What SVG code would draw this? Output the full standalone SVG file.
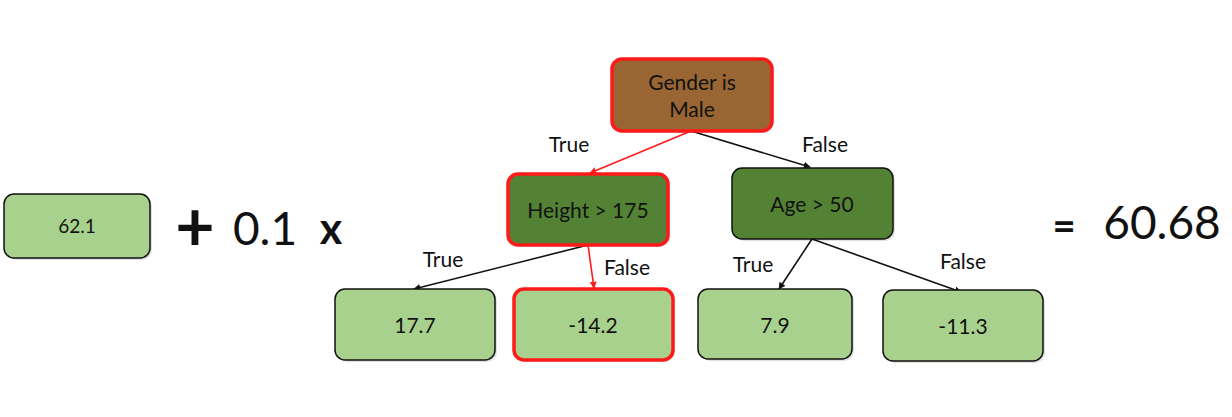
<svg xmlns="http://www.w3.org/2000/svg" width="1232" height="417" viewBox="0 0 1232 417">
<style>
text{font-family:Lato,"Noto Sans","Liberation Sans",sans-serif;fill:#111;text-anchor:middle;dominant-baseline:central}
.leaf{fill:#a9d18e;stroke:#111;stroke-width:1.5}
.dec{fill:#548235;stroke:#111;stroke-width:1.5}
.hl{stroke:#ff1a1a;stroke-width:3.5}
.t{font-size:21px}
.lbl{font-size:21px}
.e{fill:none;stroke:#111;stroke-width:1.6}
.er{fill:none;stroke:#ff1a1a;stroke-width:1.6}
.sh{fill:#000;opacity:0.12}
</style>
<defs>
<marker id="ab" viewBox="0 0 10 10" refX="9" refY="5" markerWidth="7" markerHeight="7" markerUnits="userSpaceOnUse" orient="auto"><path d="M0,0 L10,5 L0,10 z" fill="#111"/></marker>
<marker id="ar" viewBox="0 0 10 10" refX="9" refY="5" markerWidth="7" markerHeight="7" markerUnits="userSpaceOnUse" orient="auto"><path d="M0,0 L10,5 L0,10 z" fill="#ff1a1a"/></marker>
</defs>
<rect width="1232" height="417" fill="#fff"/>
<g id="base">
<rect class="sh" x="6" y="196" width="146" height="64" rx="10"/>
<rect class="leaf" x="4" y="194" width="146" height="64" rx="10"/>
<text x="77" y="225" font-size="19">62.1</text>
</g>
<g id="formula">
<text x="195" y="224" font-size="68" font-weight="bold">+</text>
<text x="265" y="227" font-size="46">0.1</text>
<text x="331" y="227" font-size="43" font-weight="bold">x</text>
<text x="1064" y="225" font-size="40" font-weight="bold">=</text>
<text x="1162" y="221" font-size="46">60.68</text>
</g>
<g id="connectors">
<line class="er" x1="691" y1="131" x2="590" y2="173" marker-end="url(#ar)"/>
<line class="e" x1="691" y1="131" x2="810" y2="167" marker-end="url(#ab)"/>
<line class="e" x1="588" y1="245" x2="414" y2="289" marker-end="url(#ab)"/>
<line class="er" x1="588" y1="245" x2="594" y2="288" marker-end="url(#ar)"/>
<line class="e" x1="812" y1="239" x2="779" y2="289" marker-end="url(#ab)"/>
<line class="e" x1="812" y1="239" x2="961" y2="292" marker-end="url(#ab)"/>
<text class="lbl" x="569" y="143">True</text>
<text class="lbl" x="825" y="143">False</text>
<text class="lbl" x="443" y="258">True</text>
<text class="lbl" x="627" y="266">False</text>
<text class="lbl" x="753" y="263">True</text>
<text class="lbl" x="963" y="260">False</text>
</g>
<g id="root">
<rect class="sh" x="614" y="61" width="160" height="72" rx="10"/>
<rect class="hl" x="612" y="59" width="160" height="72" rx="10" fill="#996633"/>
<text class="t" x="692" y="81">Gender is</text>
<text class="t" x="692" y="108">Male</text>
</g>
<g id="height">
<rect class="sh" x="510" y="176" width="160" height="71" rx="10"/>
<rect class="dec hl" x="508" y="174" width="160" height="71" rx="10"/>
<text class="t" x="588" y="209">Height &gt; 175</text>
</g>
<g id="age">
<rect class="sh" x="734" y="170" width="161" height="71" rx="10"/>
<rect class="dec" x="732" y="168" width="161" height="71" rx="10"/>
<text class="t" x="812" y="203">Age &gt; 50</text>
</g>
<g id="leaf177">
<rect class="sh" x="337" y="291" width="160" height="71" rx="10"/>
<rect class="leaf" x="335" y="289" width="160" height="71" rx="10"/>
<text class="t" x="415" y="324">17.7</text>
</g>
<g id="leafm142">
<rect class="sh" x="516" y="291" width="159" height="71" rx="10"/>
<rect class="leaf hl" x="514" y="289" width="159" height="71" rx="10"/>
<text class="t" x="593" y="324">-14.2</text>
</g>
<g id="leaf79">
<rect class="sh" x="700" y="291" width="154" height="70" rx="10"/>
<rect class="leaf" x="698" y="289" width="154" height="70" rx="10"/>
<text class="t" x="775" y="324">7.9</text>
</g>
<g id="leafm113">
<rect class="sh" x="885" y="292" width="160" height="71" rx="10"/>
<rect class="leaf" x="883" y="290" width="160" height="71" rx="10"/>
<text class="t" x="963" y="325">-11.3</text>
</g>
</svg>
